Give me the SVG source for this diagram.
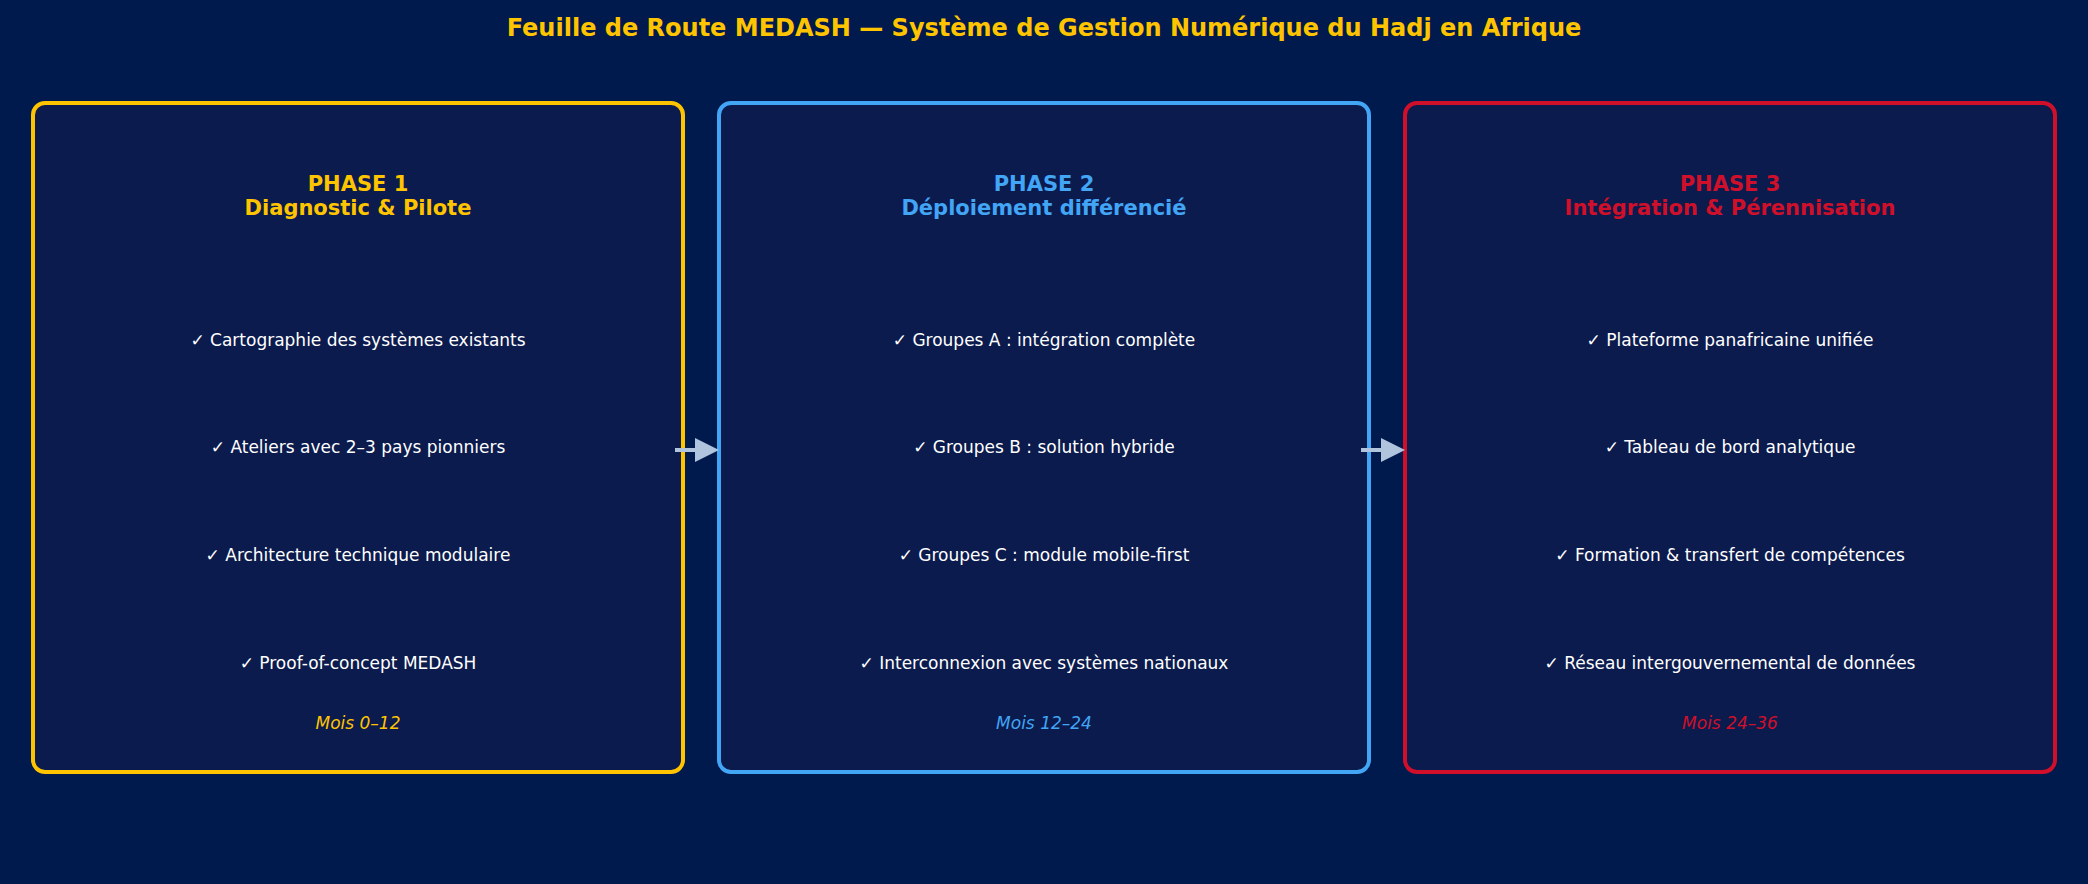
<svg xmlns="http://www.w3.org/2000/svg" width="2088" height="884" viewBox="0 0 2088 884">
<style>
text{font-family:"DejaVu Sans",sans-serif;text-anchor:middle}
.t{font-size:24px;font-weight:bold;fill:#FFC400}
.h{font-size:21px;font-weight:bold}
.i{font-size:17px;fill:#FFFFFF}
.m{font-size:17px;font-style:italic}
.box{fill:#0B1B4D;stroke-width:4}
.c{stroke:#B0C4DE;stroke-width:4;fill:none;marker-end:url(#a)}
</style>
<defs><marker id="a" markerWidth="6" markerHeight="6" refX="5" refY="3" orient="auto" markerUnits="strokeWidth"><path d="M0,0L6,3L0,6z" fill="#B0C4DE"/></marker></defs>
<rect width="2088" height="884" fill="#001A4D"/>
<text class="t" x="1044" y="36">Feuille de Route MEDASH — Système de Gestion Numérique du Hadj en Afrique</text>
<g id="phase1">
<rect class="box" x="33" y="103" width="650" height="669" rx="12" stroke="#FFC400"/>
<text class="h" x="358" y="191" fill="#FFC400">PHASE 1</text>
<text class="h" x="358" y="215" fill="#FFC400">Diagnostic &amp; Pilote</text>
<text class="i" x="358" y="346">✓ Cartographie des systèmes existants</text>
<text class="i" x="358" y="453">✓ Ateliers avec 2–3 pays pionniers</text>
<text class="i" x="358" y="561">✓ Architecture technique modulaire</text>
<text class="i" x="358" y="669">✓ Proof-of-concept MEDASH</text>
<text class="m" x="358" y="729" fill="#FFC400">Mois 0–12</text>
</g>
<g id="phase2">
<rect class="box" x="719" y="103" width="650" height="669" rx="12" stroke="#42A5F5"/>
<text class="h" x="1044" y="191" fill="#42A5F5">PHASE 2</text>
<text class="h" x="1044" y="215" fill="#42A5F5">Déploiement différencié</text>
<text class="i" x="1044" y="346">✓ Groupes A : intégration complète</text>
<text class="i" x="1044" y="453">✓ Groupes B : solution hybride</text>
<text class="i" x="1044" y="561">✓ Groupes C : module mobile-first</text>
<text class="i" x="1044" y="669">✓ Interconnexion avec systèmes nationaux</text>
<text class="m" x="1044" y="729" fill="#42A5F5">Mois 12–24</text>
</g>
<g id="phase3">
<rect class="box" x="1405" y="103" width="650" height="669" rx="12" stroke="#D0102A"/>
<text class="h" x="1730" y="191" fill="#D0102A">PHASE 3</text>
<text class="h" x="1730" y="215" fill="#D0102A">Intégration &amp; Pérennisation</text>
<text class="i" x="1730" y="346">✓ Plateforme panafricaine unifiée</text>
<text class="i" x="1730" y="453">✓ Tableau de bord analytique</text>
<text class="i" x="1730" y="561">✓ Formation &amp; transfert de compétences</text>
<text class="i" x="1730" y="669">✓ Réseau intergouvernemental de données</text>
<text class="m" x="1730" y="729" fill="#D0102A">Mois 24–36</text>
</g>
<g id="connectors">
<line class="c" x1="675" y1="450" x2="715" y2="450"/>
<line class="c" x1="1361" y1="450" x2="1401" y2="450"/>
</g>
</svg>
